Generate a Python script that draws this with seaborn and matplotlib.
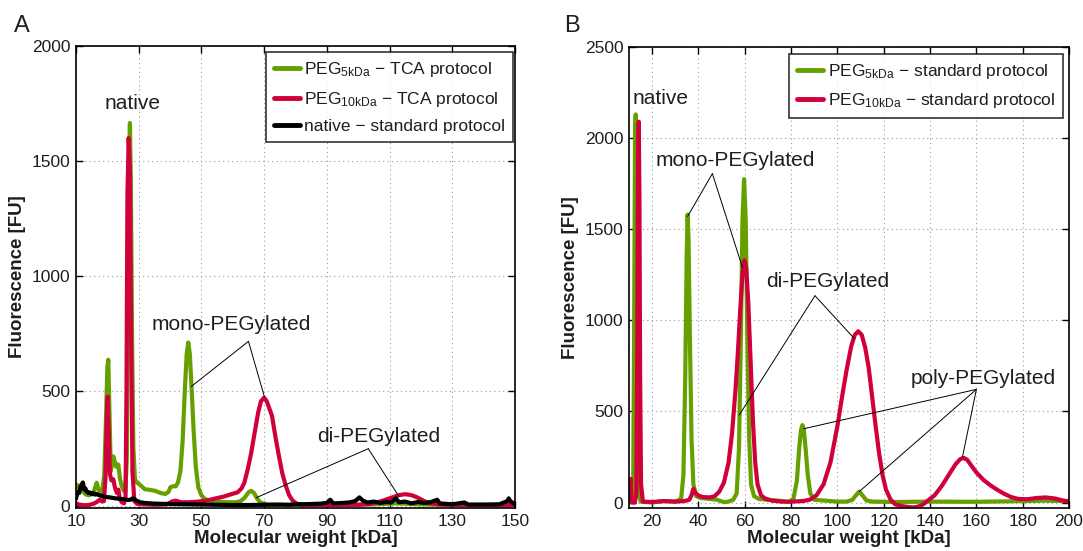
import matplotlib
matplotlib.use("Agg")
import matplotlib.pyplot as plt
import seaborn as sns
import numpy as np

# ---------------- data: panel A ----------------
a_green_x = [10.0, 10.5, 11.0, 11.5, 12.0, 13.0, 14.0, 15.0, 15.5, 16.0, 16.6, 17.2, 17.8, 18.5, 19.0,
             19.5, 20.0, 20.3, 20.6, 21.1, 21.5, 21.9, 22.4, 22.8, 23.2, 23.5, 24.0, 24.6, 25.2, 25.7,
             26.2, 26.6, 27.0, 27.2, 27.5, 27.9, 28.3, 28.8, 29.5, 30.5, 31.9, 33.0, 35.2, 37.0, 38.5,
             39.5, 40.1, 41.0, 41.8, 42.5, 43.3, 44.0, 44.7, 45.3, 45.8, 46.3, 46.9, 47.5, 48.2, 49.0,
             50.0, 51.0, 52.5, 55.0, 58.0, 61.0, 62.5, 63.8, 65.0, 65.8, 66.8, 67.8, 69.0, 71.0, 75.0,
             85.0, 95.0, 105.0, 112.0, 120.0, 130.0, 140.0, 150.0]
a_green_y = [80, 90, 75, 70, 65, 50, 45, 50, 55, 75, 100, 70, 50, 80, 130,
             350, 600, 635, 450, 150, 180, 214, 190, 170, 180, 178, 120, 84, 65, 62,
             200, 900, 1560, 1665, 1400, 700, 250, 115, 100, 90, 72, 70, 65, 55, 51,
             60, 80, 85, 84, 100, 150, 280, 500, 660, 710, 660, 500, 330, 170, 80,
             45, 30, 22, 18, 15, 15, 20, 35, 58, 65, 55, 30, 12, 5, 3,
             4, 3, 6, 10, 6, 3, 2, 2]

a_red_x = [10.0, 11.0, 12.0, 13.0, 14.0, 15.5, 16.5, 17.6, 18.3, 18.9, 19.4, 19.8, 20.1, 20.4, 20.8,
           21.3, 21.9, 22.4, 23.0, 23.5, 24.0, 24.6, 25.3, 25.8, 26.1, 26.4, 26.8, 27.2, 27.6, 28.0,
           28.6, 29.5, 32.0, 36.0, 39.0, 40.5, 41.8, 43.5, 46.0, 49.0, 51.6, 54.0, 57.2, 59.5, 61.5,
           62.8, 63.7, 64.8, 65.9, 67.0, 68.1, 69.0, 70.0, 70.8, 71.6, 72.5, 73.6, 74.7, 75.8, 76.9,
           78.0, 79.1, 80.5, 82.3, 90.0, 100.0, 104.0, 107.0, 110.0, 113.0, 115.0, 117.0, 119.0, 121.0,
           123.0, 126.0, 135.0, 150.0]
a_red_y = [10, 5, 3, 2, 3, 8, 15, 26, 18, 20, 120, 380, 474, 350, 140,
           110, 115, 80, 56, 70, 30, 15, 10, 40, 500, 1350, 1600, 1450, 700, 150,
           20, 8, 5, 4, 6, 18, 22, 15, 15, 18, 22, 30, 40, 50, 58,
           75, 101, 160, 232, 320, 406, 455, 470, 455, 425, 391, 300, 217, 140, 87,
           45, 22, 8, 3, 3, 4, 8, 18, 32, 46, 50, 46, 35, 20,
           10, 5, 3, 3]

a_black_x = [10.0, 10.5, 11.0, 11.5, 12.2, 12.6, 13.0, 13.5, 14.0, 14.4, 15.0, 15.5, 16.0, 16.5, 17.5,
             18.5, 19.5, 20.9, 22.5, 24.0, 25.5, 26.5, 27.5, 28.0, 28.6, 29.5, 30.5, 31.9, 35.0, 40.0,
             45.0, 50.0, 55.0, 60.0, 65.0, 70.0, 75.0, 78.0, 80.0, 84.0, 88.0, 90.0, 91.1, 92.0, 95.0,
             97.0, 99.0, 100.4, 101.5, 103.0, 105.0, 107.0, 109.0, 110.5, 112.0, 113.0, 115.0, 117.0, 119.0,
             121.0, 123.0, 125.2, 126.0, 128.0, 130.0, 133.9, 135.0, 140.0, 145.0, 147.5, 148.0, 148.5, 150.0]
a_black_y = [30, 60, 55, 85, 101, 70, 75, 60, 55, 58, 50, 55, 48, 51, 45,
             42, 38, 36, 32, 30, 28, 25, 26, 32, 29, 20, 15, 12, 9, 7,
             6, 5, 4, 3, 3, 4, 5, 4, 6, 7, 9, 12, 26, 10, 12,
             14, 20, 36, 22, 14, 18, 12, 16, 14, 32, 15, 18, 10, 16,
             12, 15, 26, 10, 8, 6, 14, 5, 5, 6, 20, 32, 20, 6]

# ---------------- data: panel B ----------------
b_green_x = [10, 11, 11.8, 12.2, 12.6, 12.9, 13.2, 13.6, 14.2, 15, 20, 25, 30, 32.5, 33.5,
             34.3, 34.9, 35.3, 35.7, 36.3, 37.0, 37.8, 39, 41, 45, 48, 51, 53, 55, 56.5,
             57.5, 58.3, 59.0, 59.7, 60.4, 61.1, 61.9, 62.7, 64, 66, 70, 75, 79, 81, 82.5,
             83.5, 84.3, 84.9, 85.5, 86.3, 87.2, 88.3, 90, 95, 100, 104, 106.5, 108, 109.4,
             110.8, 112.5, 115, 125, 140, 160, 180, 190, 200]
b_green_y = [0, 2, 50, 900, 2000, 2130, 1600, 500, 50, 5, 0, 8, 5, 20, 150,
             700, 1350, 1580, 1450, 900, 350, 100, 35, 25, 20, 15, 2, 5, 15, 50,
             300, 900, 1550, 1775, 1550, 900, 350, 100, 35, 20, 15, 10, 3, 20, 120,
             300, 400, 425, 400, 290, 150, 50, 15, 10, 5, 5, 15, 40, 60,
             40, 12, 5, 3, 5, 4, 8, 10, 8]

b_red_x = [10, 10.4, 10.7, 11.0, 11.5, 12.5, 13.2, 13.6, 13.9, 14.2, 14.5, 14.8, 15.2, 16, 20,
           25, 30, 34, 36, 37, 37.8, 38.6, 40, 42, 45, 47, 49, 51, 53, 54.5,
           56, 57, 58, 59, 59.8, 60.6, 61.5, 62.5, 63.5, 64.5, 65.5, 67, 69, 72, 76,
           80, 85, 88, 91, 94, 97, 100, 102, 104, 106, 107.5, 109, 110.5, 112,
           113.5, 115, 116.5, 118, 119.5, 121, 123, 125, 128, 131, 133, 135, 137, 139,
           142, 145, 148, 151, 153, 154.5, 156, 158, 160, 163, 166, 169, 172, 175,
           178, 182, 186, 190, 194, 197, 200]
b_red_y = [5, 100, 130, 20, 0, 0, 50, 900, 1900, 2090, 1700, 700, 100, 5, 3,
           8, 5, 8, 15, 40, 75, 55, 38, 30, 28, 35, 60, 110, 220, 380,
           620, 820, 1050, 1250, 1330, 1290, 1100, 780, 450, 220, 100, 40, 20, 10, 5,
           5, 8, 15, 40, 100, 220, 420, 580, 730, 860, 920, 940, 920, 850,
           740, 580, 420, 270, 150, 70, 15, -10, -20, -25, -27, -22, -10, 10,
           40, 90, 150, 210, 238, 245, 235, 200, 165, 125, 95, 70, 48, 30,
           20, 18, 25, 28, 22, 12, 5]

a_xticks = [10, 30, 50, 70, 90, 110, 130, 150]
a_yticks = [0, 500, 1000, 1500, 2000]
b_xticks = [20, 40, 60, 80, 100, 120, 140, 160, 180, 200]
b_yticks = [0, 500, 1000, 1500, 2000, 2500]

a_labels = [r"PEG$_{\mathregular{5kDa}}$ − TCA protocol",
            r"PEG$_{\mathregular{10kDa}}$ − TCA protocol",
            "native − standard protocol"]
b_labels = [r"PEG$_{\mathregular{5kDa}}$ − standard protocol",
            r"PEG$_{\mathregular{10kDa}}$ − standard protocol"]

GREEN = "#66a000"
RED = "#d0003a"
BLACK = "#000000"
TEXT = "#1e1e1e"

# ---------------- style ----------------
sns.set_theme(style="whitegrid")
plt.rcParams["font.family"] = ["Liberation Sans", "DejaVu Sans"]
plt.rcParams["mathtext.fontset"] = "custom"
plt.rcParams["mathtext.rm"] = "Liberation Sans"
plt.rcParams["mathtext.it"] = "Liberation Sans:italic"
plt.rcParams["mathtext.bf"] = "Liberation Sans:bold"
plt.rcParams["text.color"] = TEXT

fig = plt.figure(figsize=(10.83, 5.51), dpi=100)
fig.patch.set_facecolor("white")

W, H = 1083.0, 551.0
axA = fig.add_axes([76 / W, 1 - 508 / H, 439 / W, 462 / H])
axB = fig.add_axes([629 / W, 1 - 508 / H, 440 / W, 461 / H])

LW = 3.0


def style_axes(ax, xlim, ylim, xticks, yticks):
    ax.set_facecolor("white")
    ax.set_xlim(*xlim)
    ax.set_ylim(*ylim)
    ax.set_xticks(xticks)
    ax.set_yticks(yticks)
    ax.grid(True, linestyle=(0, (1, 3)), color="#9a9a9a", linewidth=0.8)
    for s in ax.spines.values():
        s.set_color("black")
        s.set_linewidth(1.2)
    ax.tick_params(axis="both", which="both", direction="in", length=5, width=1,
                   top=True, right=True, bottom=True, left=True,
                   labelsize=12.5, colors="black", labelcolor=TEXT, pad=4)
    ax.set_xlabel("Molecular weight [kDa]", fontsize=13.5, fontweight="bold", labelpad=1, color=TEXT)
    ax.set_ylabel("Fluorescence [FU]", fontsize=13.5, fontweight="bold", labelpad=4, color=TEXT)


def make_legend(ax, anchor):
    leg = ax.legend(loc="upper right", bbox_to_anchor=anchor, borderaxespad=0,
                    fontsize=12.5, frameon=True, fancybox=False, edgecolor="black",
                    handlelength=1.5, handletextpad=0.25, labelspacing=0.62, borderpad=0.45)
    leg.get_frame().set_linewidth(1.2)
    for line in leg.get_lines():
        line.set_linewidth(3.5)
    return leg


# ---------------- panel A ----------------
sns.lineplot(x=a_green_x, y=a_green_y, ax=axA, color=GREEN, lw=LW, label=a_labels[0], sort=False)
sns.lineplot(x=a_red_x, y=a_red_y, ax=axA, color=RED, lw=LW, label=a_labels[1], sort=False)
sns.lineplot(x=a_black_x, y=a_black_y, ax=axA, color=BLACK, lw=LW, label=a_labels[2], sort=False)
style_axes(axA, (10, 150), (-10, 2000), a_xticks, a_yticks)
make_legend(axA, (0.9954, 0.987))

ANN = 15
ARR = dict(arrowstyle="-", color="black", lw=0.7, shrinkA=0, shrinkB=0)
axA.text(27.9, 1752, "native", fontsize=ANN, ha="center", va="center")
axA.text(59.5, 790, "mono-PEGylated", fontsize=ANN, ha="center", va="center")
for end in [(46.7, 518), (70.1, 473)]:
    axA.annotate("", xy=end, xytext=(65.0, 715), arrowprops=ARR)
axA.text(106.4, 300, "di-PEGylated", fontsize=ANN, ha="center", va="center")
for end in [(67.5, 35), (113.0, 40)]:
    axA.annotate("", xy=end, xytext=(103.2, 248), arrowprops=ARR)

# ---------------- panel B ----------------
sns.lineplot(x=b_green_x, y=b_green_y, ax=axB, color=GREEN, lw=LW, label=b_labels[0], sort=False)
sns.lineplot(x=b_red_x, y=b_red_y, ax=axB, color=RED, lw=LW, label=b_labels[1], sort=False)
style_axes(axB, (10, 200), (-30, 2500), b_xticks, b_yticks)
make_legend(axB, (0.986, 0.985))

axB.text(23.8, 2215, "native", fontsize=ANN, ha="center", va="center")
axB.text(56.0, 1875, "mono-PEGylated", fontsize=ANN, ha="center", va="center")
for end in [(35.3, 1570), (59.0, 1290)]:
    axB.annotate("", xy=end, xytext=(46.0, 1805), arrowprops=ARR)
axB.text(96.0, 1215, "di-PEGylated", fontsize=ANN, ha="center", va="center")
for end in [(57.6, 480), (107.3, 900)]:
    axB.annotate("", xy=end, xytext=(90.3, 1135), arrowprops=ARR)
axB.text(163.0, 680, "poly-PEGylated", fontsize=ANN, ha="center", va="center")
for end in [(85.5, 405), (109.4, 60), (154.0, 250)]:
    axB.annotate("", xy=end, xytext=(160.0, 621), arrowprops=ARR)

# panel letters
fig.text(14 / W, 1 - 26 / H, "A", fontsize=17, ha="left", va="center")
fig.text(564 / W, 1 - 26 / H, "B", fontsize=17, ha="left", va="center")

fig.savefig("out.png", dpi=100, facecolor="white")
